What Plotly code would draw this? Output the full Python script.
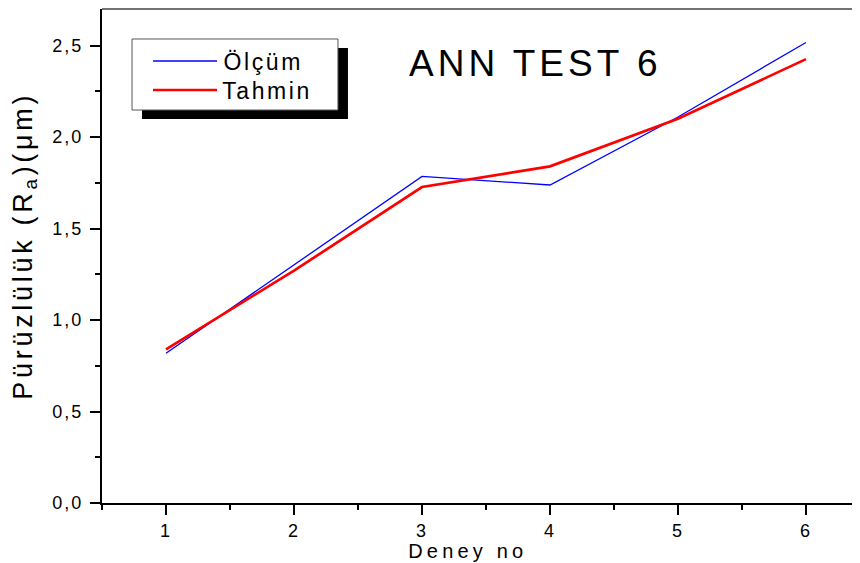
import plotly.graph_objects as go

# ---- data ----
deney = [1, 2, 3, 4, 5, 6]
olcum = [0.818, 1.30, 1.785, 1.738, 2.11, 2.517]
tahmin = [0.84, 1.27, 1.727, 1.84, 2.10, 2.426]
series_names = ["Ölçüm", "Tahmin"]
y_ticks = [0.0, 0.5, 1.0, 1.5, 2.0, 2.5]
x_ticks = [1, 2, 3, 4, 5, 6]

FONT = "Liberation Sans, Arial, Helvetica, sans-serif"
BLUE = "#0000ff"
RED = "#ff0000"

fig = go.Figure()
fig.add_trace(go.Scatter(x=deney, y=olcum, mode="lines", name=series_names[0],
                         line=dict(color=BLUE, width=1.3), showlegend=False))
fig.add_trace(go.Scatter(x=deney, y=tahmin, mode="lines", name=series_names[1],
                         line=dict(color=RED, width=2.7), showlegend=False))

axis_common = dict(showgrid=False, zeroline=False, showline=True, linecolor="black",
                   linewidth=2, ticks="outside", ticklen=10, tickwidth=2,
                   tickcolor="black", tickfont=dict(size=18, family=FONT, color="black"),
                   automargin=False)

fig.update_layout(
    width=852, height=555,
    margin=dict(l=94, r=0, t=1, b=60),
    plot_bgcolor="white", paper_bgcolor="white",
    separators=", ",
    font=dict(family=FONT, color="black"),
    showlegend=False,
    xaxis=dict(range=[0.5, 6.422], tickmode="array", tickvals=x_ticks,
               minor=dict(tick0=0.5, dtick=0.5, ticks="outside", ticklen=5,
                          tickwidth=2, tickcolor="black"),
               **axis_common),
    yaxis=dict(range=[0, 2.7], tickmode="array", tickvals=y_ticks,
               tickformat=".1f", ticklabelstandoff=3,
               minor=dict(tick0=0, dtick=0.25, ticks="outside", ticklen=5,
                          tickwidth=2, tickcolor="black"),
               **axis_common),
    shapes=[
        # top frame line
        dict(type="line", xref="paper", yref="paper", x0=0, x1=1, y0=1, y1=1,
             line=dict(color="#444", width=1.5)),
        # legend shadow
        dict(type="rect", xref="paper", yref="paper", x0=0.0528, x1=0.3245,
             y0=0.7773, y1=0.9211, fillcolor="black", line=dict(width=0),
             layer="above"),
        # legend box
        dict(type="rect", xref="paper", yref="paper", x0=0.0396, x1=0.3113,
             y0=0.7955, y1=0.9393, fillcolor="white",
             line=dict(color="#555", width=1), layer="above"),
        # legend samples
        dict(type="line", xref="paper", yref="paper", x0=0.0673, x1=0.1517,
             y0=0.8947, y1=0.8947, line=dict(color=BLUE, width=1.3), layer="above"),
        dict(type="line", xref="paper", yref="paper", x0=0.0673, x1=0.1517,
             y0=0.8360, y1=0.8360, line=dict(color=RED, width=2.7), layer="above"),
    ],
    annotations=[
        dict(text="ANN TEST 6", xref="paper", yref="paper", x=0.5712, y=0.8896,
             xanchor="center", yanchor="middle", showarrow=False,
             font=dict(size=37, family=FONT, color="black")),
        dict(text=series_names[0], xref="paper", yref="paper", x=0.1663, y=0.8925,
             xanchor="left", yanchor="middle", showarrow=False,
             font=dict(size=23, family=FONT, color="black")),
        dict(text=series_names[1], xref="paper", yref="paper", x=0.1663, y=0.8338,
             xanchor="left", yanchor="middle", showarrow=False,
             font=dict(size=23, family=FONT, color="black")),
        dict(text="Deney no", xref="paper", yref="paper", x=0.4822, y=-0.0975,
             xanchor="center", yanchor="middle", showarrow=False,
             font=dict(size=20, family=FONT, color="black")),
        dict(text="Pürüzlülük (R<sub>a</sub>)(μm)", xref="paper", yref="paper",
             x=-0.1022, y=0.5202, xanchor="center", yanchor="middle",
             textangle=-90, showarrow=False,
             font=dict(size=27, family=FONT, color="black")),
    ],
)

spacing_js = """
document.querySelectorAll('.main-svg text').forEach(function(t){
  var fs = parseFloat(t.style.fontSize) || 16;
  var ls = fs >= 30 ? 4 : (fs >= 25 ? 3.7 : (fs >= 22 ? 2.6 : (fs >= 19 ? 4.2 : 2)));
  t.style.letterSpacing = ls + 'px';
});
"""

fig.write_html("out.html", post_script=spacing_js)
